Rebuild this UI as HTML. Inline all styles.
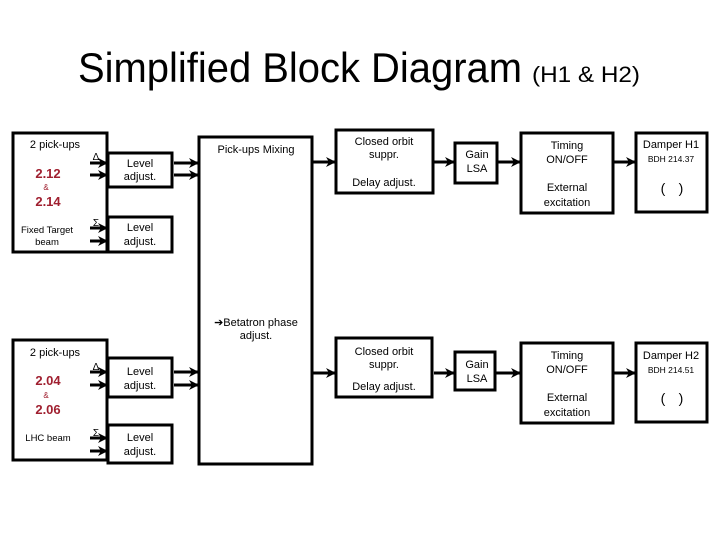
<!DOCTYPE html>
<html><head><style>body{margin:0;background:#fff}svg{display:block}</style></head><body>
<svg width="720" height="540" viewBox="0 0 720 540" xmlns="http://www.w3.org/2000/svg" font-family="Liberation Sans, sans-serif">
<defs><marker id="a" markerWidth="10" markerHeight="10" refX="9" refY="5" orient="auto" markerUnits="userSpaceOnUse"><path d="M0,0 L10,5 L0,10 L3,5 z" fill="#000"/></marker></defs>
<text x="78" y="82" font-size="42" textLength="444" lengthAdjust="spacingAndGlyphs">Simplified Block Diagram</text>
<text x="532" y="82" font-size="22" textLength="108" lengthAdjust="spacingAndGlyphs">(H1 &amp; H2)</text>
<g fill="none" stroke="#000" stroke-width="3">
<rect x="13" y="133" width="94" height="119"/>
<rect x="108" y="153" width="64" height="34"/>
<rect x="108" y="217" width="64" height="35"/>
<rect x="199" y="137" width="113" height="327"/>
<rect x="336" y="130" width="97" height="63"/>
<rect x="455" y="143" width="42" height="40"/>
<rect x="521" y="133" width="92" height="80"/>
<rect x="636" y="133" width="71" height="79"/>
<rect x="13" y="340" width="94" height="120"/>
<rect x="108" y="358" width="64" height="39"/>
<rect x="108" y="425" width="64" height="38"/>
<rect x="336" y="338" width="96" height="59"/>
<rect x="455" y="352" width="40" height="38"/>
<rect x="521" y="343" width="92" height="80"/>
<rect x="636" y="343" width="71" height="79"/>
</g>
<g stroke="#000" stroke-width="3" marker-end="url(#a)">
<line x1="90" y1="163" x2="107" y2="163"/><line x1="90" y1="175" x2="107" y2="175"/>
<line x1="90" y1="228" x2="107" y2="228"/><line x1="90" y1="241" x2="107" y2="241"/>
<line x1="174" y1="163" x2="198" y2="163"/><line x1="174" y1="175" x2="198" y2="175"/>
<line x1="313" y1="162" x2="335" y2="162"/><line x1="434" y1="162" x2="454" y2="162"/>
<line x1="498" y1="162" x2="520" y2="162"/><line x1="614" y1="162" x2="635" y2="162"/>
<line x1="90" y1="372" x2="107" y2="372"/><line x1="90" y1="385" x2="107" y2="385"/>
<line x1="90" y1="438" x2="107" y2="438"/><line x1="90" y1="451" x2="107" y2="451"/>
<line x1="174" y1="372" x2="198" y2="372"/><line x1="174" y1="385" x2="198" y2="385"/>
<line x1="313" y1="373" x2="335" y2="373"/><line x1="434" y1="373" x2="454" y2="373"/>
<line x1="496" y1="373" x2="520" y2="373"/><line x1="614" y1="373" x2="635" y2="373"/>
</g>
<g font-size="11" text-anchor="middle">
<text x="55" y="148">2 pick-ups</text>
<text x="48" y="178" font-size="13" font-weight="bold" fill="#a02030">2.12</text>
<text x="46" y="190" font-size="8" fill="#a02030">&amp;</text>
<text x="48" y="206" font-size="13" font-weight="bold" fill="#a02030">2.14</text>
<text x="47" y="233" font-size="9.5">Fixed Target</text>
<text x="47" y="245" font-size="9.5">beam</text>
<text x="96" y="160" font-size="10">Δ</text><text x="96" y="226" font-size="10">Σ</text>
<text x="140" y="167">Level</text><text x="140" y="180">adjust.</text>
<text x="140" y="231">Level</text><text x="140" y="245">adjust.</text>
<text x="256" y="153">Pick-ups Mixing</text>
<text x="384" y="145">Closed orbit</text><text x="384" y="158">suppr.</text>
<text x="384" y="186">Delay adjust.</text>
<text x="477" y="158">Gain</text><text x="477" y="172">LSA</text>
<text x="567" y="149">Timing</text><text x="567" y="163">ON/OFF</text>
<text x="567" y="191">External</text><text x="567" y="206">excitation</text>
<text x="671" y="148">Damper H1</text>
<text x="671" y="162" font-size="8.5">BDH 214.37</text>
<text x="663" y="193" font-size="14">(</text><text x="681" y="193" font-size="14">)</text>
<text x="256" y="326">➔Betatron phase</text><text x="256" y="339">adjust.</text>
<text x="55" y="356">2 pick-ups</text>
<text x="48" y="385" font-size="13" font-weight="bold" fill="#a02030">2.04</text>
<text x="46" y="398" font-size="8" fill="#a02030">&amp;</text>
<text x="48" y="414" font-size="13" font-weight="bold" fill="#a02030">2.06</text>
<text x="48" y="441" font-size="9.5">LHC beam</text>
<text x="96" y="370" font-size="10">Δ</text><text x="96" y="436" font-size="10">Σ</text>
<text x="140" y="375">Level</text><text x="140" y="389">adjust.</text>
<text x="140" y="441">Level</text><text x="140" y="455">adjust.</text>
<text x="384" y="355">Closed orbit</text><text x="384" y="368">suppr.</text>
<text x="384" y="390">Delay adjust.</text>
<text x="477" y="368">Gain</text><text x="477" y="382">LSA</text>
<text x="567" y="359">Timing</text><text x="567" y="373">ON/OFF</text>
<text x="567" y="401">External</text><text x="567" y="416">excitation</text>
<text x="671" y="359">Damper H2</text>
<text x="671" y="373" font-size="8.5">BDH 214.51</text>
<text x="663" y="403" font-size="14">(</text><text x="681" y="403" font-size="14">)</text>
</g>
</svg>
</body></html>
